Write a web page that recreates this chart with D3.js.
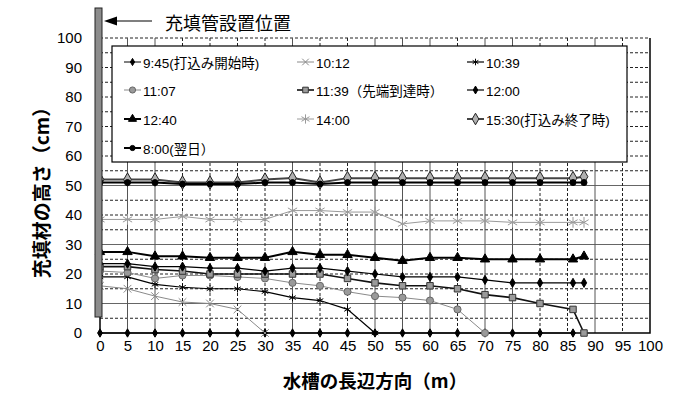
<!DOCTYPE html>
<html>
<head>
<meta charset="utf-8">
<script src="https://cdn.jsdelivr.net/npm/d3@7"></script>
<style>
  body { margin: 0; background: #fff; }
  svg { display: block; font-family: "Liberation Sans", "Noto Sans CJK JP", Arial, sans-serif; }
</style>
</head>
<body>
<svg id="chart" width="695" height="395"></svg>
<script>
// Measuring positions along the tank (m)
const distances = [0, 5, 10, 15, 20, 25, 30, 35, 40, 45, 50, 55, 60, 65, 70, 75, 80, 86, 88];

// Filling height (cm) at each time, listed from the pipe outward
const h0945 = [0, 0, 0, 0, 0, 0, 0, 0, 0, 0, 0, 0, 0, 0, 0, 0, 0, 0];
const h1012 = [16, 15, 12.5, 10.5, 10, 8, 0];
const h1039 = [19, 19, 16.5, 15.5, 15, 15, 14, 12, 11, 8, 0];
const h1107 = [21, 20.5, 18.5, 19.5, 19.5, 19, 18.5, 17, 16, 14, 12.5, 12, 11, 8, 0];
const h1139 = [22.5, 22.5, 21.5, 21, 20, 20, 20, 20, 20, 18.5, 17, 16, 16, 15, 13, 12, 10, 8, 0];
const h1200 = [23.5, 23.5, 22.5, 22.5, 22, 22, 21, 22, 22, 21, 20, 19, 19, 19, 18, 17, 17, 17, 17];
const h1240 = [27.5, 27.5, 26, 26, 25.5, 25.5, 25.5, 27.5, 26.5, 26.5, 25.5, 24.5, 25.5, 25.5, 25, 25, 25, 25, 26];
const h1400 = [38.5, 38.5, 38.5, 39.5, 38.5, 38.5, 38.5, 41.5, 41.5, 41, 41, 37, 38, 38, 38, 37.5, 37.5, 37.5, 37.5];
const h1530 = [52, 52, 52, 51, 51, 51, 52, 52.5, 51, 52.5, 52.5, 52.5, 52.5, 52.5, 52.5, 52.5, 52.5, 52.5, 53];
const h0800 = [51, 51, 51, 50.5, 50.5, 50.5, 51, 51, 50.5, 51, 51, 51, 51, 51, 51, 51, 51, 51, 51];

const seriesLabels = [
  "9:45(打込み開始時)", "10:12", "10:39",
  "11:07", "11:39（先端到達時）", "12:00",
  "12:40", "14:00", "15:30(打込み終了時)",
  "8:00(翌日）"
];

// Axis ticks
const xTicks = d3.range(0, 101, 5);
const yTicks = d3.range(0, 101, 10);
const yGrid = d3.range(5, 101, 5);

// Axis titles and note
const xTitle = "水槽の長辺方向（m）";
const yTitle = "充填材の高さ（cm）";
const pipeNote = "充填管設置位置";

// Per-series drawing style
const styles = [
  { line: "#000", w: 1,   marker: "diamond", size: 20, fill: "#000", stroke: "#000" },
  { line: "#8a8a8a", w: 1, marker: "times",  size: 40, fill: "none", stroke: "#8a8a8a" },
  { line: "#000", w: 1.2, marker: "asterisk", size: 40, fill: "none", stroke: "#000" },
  { line: "#8a8a8a", w: 1, marker: "circle", size: 40, fill: "#9a9a9a", stroke: "#666" },
  { line: "#111", w: 1.6, marker: "square", size: 42, fill: "#9a9a9a", stroke: "#333" },
  { line: "#000", w: 1.2, marker: "diamond", size: 24, fill: "#000", stroke: "#000" },
  { line: "#000", w: 2,   marker: "triangle", size: 38, fill: "#000", stroke: "#000" },
  { line: "#9a9a9a", w: 1, marker: "asterisk", size: 80, fill: "none", stroke: "#9a9a9a" },
  { line: "#444", w: 2,   marker: "diamond", size: 52, fill: "#b0b0b0", stroke: "#222" },
  { line: "#000", w: 2,   marker: "circle", size: 28, fill: "#000", stroke: "#000" }
];
const symbolTypes = {
  diamond: d3.symbolDiamond, times: d3.symbolTimes, asterisk: d3.symbolAsterisk,
  circle: d3.symbolCircle, square: d3.symbolSquare, triangle: d3.symbolTriangle
};

const seriesValues = [h0945, h1012, h1039, h1107, h1139, h1200, h1240, h1400, h1530, h0800];
const series = seriesValues.map((vals, i) => ({
  label: seriesLabels[i],
  style: styles[i],
  points: vals.map((v, j) => ({ x: distances[j], y: v }))
}));

const svg = d3.select("#chart");
const plot = { left: 100, right: 650, top: 38, bottom: 333 };

const x = d3.scaleLinear().domain([0, 100]).range([plot.left, plot.right]);
const y = d3.scaleLinear().domain([0, 100]).range([plot.bottom, plot.top]);

// Gridlines (a few are rendered solid, the rest dashed)
const solidRows = [10, 30, 50];
const solidCols = [5, 10, 35, 50, 55, 60, 70, 75, 90];
const grid = svg.append("g");
grid.selectAll("line.h").data(yGrid).join("line")
  .attr("x1", plot.left).attr("x2", plot.right)
  .attr("y1", d => y(d)).attr("y2", d => y(d))
  .attr("stroke", d => solidRows.includes(d) ? "#666" : "#222")
  .attr("stroke-width", 1)
  .attr("stroke-dasharray", d => solidRows.includes(d) ? null : "3,2");
grid.selectAll("line.v").data(xTicks.filter(d => d > 0 && d < 100)).join("line")
  .attr("x1", d => x(d)).attr("x2", d => x(d))
  .attr("y1", plot.top).attr("y2", plot.bottom)
  .attr("stroke", d => solidCols.includes(d) ? "#555" : "#222")
  .attr("stroke-width", 1)
  .attr("stroke-dasharray", d => solidCols.includes(d) ? null : "3,2");

// Plot frame: left, bottom and right solid
svg.append("path")
  .attr("d", `M${plot.left},${plot.top}V${plot.bottom}H${plot.right}V${plot.top}`)
  .attr("fill", "none").attr("stroke", "#000").attr("stroke-width", 1.5);

// Axes
const yAxis = svg.append("g")
  .attr("transform", `translate(${plot.left},0)`)
  .call(d3.axisLeft(y).tickValues(yTicks).tickSize(0).tickPadding(18));
yAxis.select(".domain").remove();
yAxis.selectAll("text").attr("font-size", 15).attr("font-family", "Liberation Sans, Arial, sans-serif").attr("fill", "#000");

const xAxis = svg.append("g")
  .attr("transform", `translate(0,${plot.bottom})`)
  .call(d3.axisBottom(x).tickValues(xTicks).tickSize(0).tickPadding(7));
xAxis.select(".domain").remove();
xAxis.selectAll("text").attr("font-size", 15).attr("font-family", "Liberation Sans, Arial, sans-serif").attr("fill", "#000");

// Series lines and markers
const lineGen = d3.line().x(d => x(d.x)).y(d => y(d.y));
const marks = svg.append("g");
series.forEach(s => {
  const g = marks.append("g");
  g.append("path").datum(s.points)
    .attr("d", lineGen).attr("fill", "none")
    .attr("stroke", s.style.line).attr("stroke-width", s.style.w);
  const sym = d3.symbol(symbolTypes[s.style.marker], s.style.size);
  g.selectAll("path.m").data(s.points).join("path")
    .attr("transform", d => `translate(${x(d.x)},${y(d.y)})`)
    .attr("d", sym)
    .attr("fill", s.style.fill)
    .attr("stroke", s.style.stroke)
    .attr("stroke-width", 1);
});

// Filling pipe position bar along the left edge
svg.append("rect")
  .attr("x", 95).attr("y", 8).attr("width", 7).attr("height", 309)
  .attr("fill", "#8c8c8c").attr("stroke", "#222").attr("stroke-width", 1);

// Arrow and note pointing at the pipe
svg.append("line")
  .attr("x1", 110).attr("x2", 152).attr("y1", 21).attr("y2", 21)
  .attr("stroke", "#000").attr("stroke-width", 1.2);
svg.append("path")
  .attr("d", "M104,21L117,16.5L117,25.5Z").attr("fill", "#000");
svg.append("text")
  .attr("x", 165).attr("y", 22).attr("dominant-baseline", "central")
  .attr("font-size", 18).attr("font-family", "Noto Sans CJK JP, sans-serif")
  .text(pipeNote);

// Legend
const legend = svg.append("g");
legend.append("rect")
  .attr("x", 112).attr("y", 46).attr("width", 515).attr("height", 116)
  .attr("fill", "#fff").attr("stroke", "#000").attr("stroke-width", 1.2);
const colX = [124, 297, 467];
const rowY = [62, 90, 119, 148];
series.forEach((s, i) => {
  const cx = colX[i % 3], cy = rowY[Math.floor(i / 3)];
  const item = legend.append("g").attr("transform", `translate(${cx},${cy})`);
  item.append("line").attr("x1", 0).attr("x2", 17).attr("y1", 0).attr("y2", 0)
    .attr("stroke", s.style.line).attr("stroke-width", s.style.w);
  item.append("path")
    .attr("transform", "translate(8.5,0)")
    .attr("d", d3.symbol(symbolTypes[s.style.marker], s.style.size * 0.75))
    .attr("fill", s.style.fill).attr("stroke", s.style.stroke).attr("stroke-width", 1);
  item.append("text")
    .attr("x", 19).attr("y", 1).attr("dominant-baseline", "central")
    .attr("font-size", 13.5).text(s.label);
});

// Axis titles
svg.append("text")
  .attr("x", 375).attr("y", 380).attr("text-anchor", "middle").attr("dominant-baseline", "central")
  .attr("font-size", 18.5).attr("font-weight", "bold")
  .attr("font-family", "Noto Sans CJK JP, sans-serif")
  .text(xTitle);
svg.append("text")
  .attr("transform", "translate(40,188) rotate(-90)")
  .attr("text-anchor", "middle").attr("dominant-baseline", "central")
  .attr("font-size", 19).attr("font-weight", "bold")
  .attr("font-family", "Noto Sans CJK JP, sans-serif")
  .text(yTitle);
</script>
</body>
</html>
